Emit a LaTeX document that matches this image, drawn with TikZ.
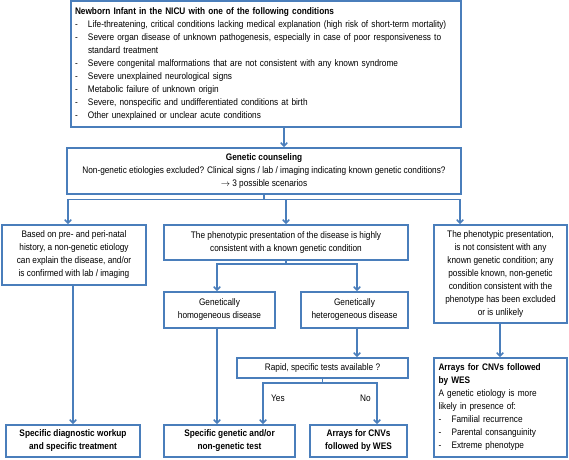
\documentclass[tikz,border=0pt]{standalone}
\usepackage{fontspec}
\setmainfont{Liberation Sans}[FakeStretch=0.87]
\usetikzlibrary{arrows.meta,calc}
\definecolor{bblue}{HTML}{4A7EBB}
\newcommand{\itm}[1]{\par\hangindent=13pt\hangafter=1\noindent\makebox[13pt][l]{-}#1}
\begin{document}
\begin{tikzpicture}[x=1pt,y=-1pt,
  box/.style={draw=bblue,line width=1.5pt,fill=white,inner sep=2pt,align=center,
    font=\fontsize{9.5}{13}\selectfont},
  conn/.style={draw=bblue,line width=1.5pt},
  arr/.style={conn,-{Straight Barb[length=3.5pt,width=6.5pt,line width=1.5pt]}},
  lab/.style={font=\fontsize{9.5}{13}\selectfont,inner sep=0pt}]
\useasboundingbox (0,0) rectangle (569,459);
% boxes
\node[box,minimum width=390,minimum height=126,text width=382,align=left] (top) at (266,64)
 {\hyphenpenalty=10000\textbf{Newborn Infant in the NICU with one of the following conditions}
 \itm{Life-threatening, critical conditions lacking medical explanation (high risk of short-term mortality)}
 \itm{Severe organ disease of unknown pathogenesis, especially in case of poor responsiveness to\newline standard treatment}
 \itm{Severe congenital malformations that are not consistent with any known syndrome}
 \itm{Severe unexplained neurological signs}
 \itm{Metabolic failure of unknown origin}
 \itm{Severe, nonspecific and undifferentiated conditions at birth}
 \itm{Other unexplained or unclear acute conditions}};
\node[box,minimum width=394,minimum height=46] (couns) at (264,171)
 {\textbf{Genetic counseling}\\Non-genetic etiologies excluded? Clinical signs / lab / imaging indicating known genetic conditions?\\$\rightarrow$ 3 possible scenarios};
\node[box,minimum width=144,minimum height=60] (left) at (74,255)
 {Based on pre- and peri-natal\\history, a non-genetic etiology\\can explain the disease, and/or\\is confirmed with lab / imaging};
\node[box,minimum width=244,minimum height=35] (mid) at (286,242.5)
 {The phenotypic presentation of the disease is highly\\consistent with a known genetic condition};
\node[box,minimum width=133,minimum height=98] (right) at (500.5,274)
 {The phenotypic presentation,\\is not consistent with any\\known genetic condition; any\\possible known, non-genetic\\condition consistent with the\\phenotype has been excluded\\or is unlikely};
\node[box,minimum width=111,minimum height=36] (homog) at (219.5,310)
 {Genetically\\homogeneous disease};
\node[box,minimum width=107,minimum height=36] (heter) at (354.5,310)
 {Genetically\\heterogeneous disease};
\node[box,minimum width=171,minimum height=20] (rapid) at (322.5,368)
 {Rapid, specific tests available ?};
\node[box,minimum width=134,minimum height=32] (bl) at (73,441)
 {\textbf{Specific diagnostic workup}\\\textbf{and specific treatment}};
\node[box,minimum width=131,minimum height=32] (bm) at (229.5,441)
 {\textbf{Specific genetic and/or}\\\textbf{non-genetic test}};
\node[box,minimum width=97,minimum height=32] (barr) at (358.5,441)
 {\textbf{Arrays for CNVs}\\\textbf{followed by WES}};
\node[box,minimum width=133,minimum height=99,text width=124,align=left] (br) at (500.5,407.5)
 {\textbf{Arrays for CNVs followed}\\\textbf{by WES}\par\noindent A genetic etiology is more\\likely in presence of:
 \itm{Familial recurrence}
 \itm{Parental consanguinity}
 \itm{Extreme phenotype}};
% labels
\node[lab,anchor=west] (yes) at (271,398) {Yes};
\node[lab,anchor=east] (no) at (371,398) {No};
% coordinates
\coordinate (xa) at (284,0);
\coordinate (b1) at (264,199.5);
\coordinate (xl) at (68,0);
\coordinate (xr) at (460,0);
\coordinate (m1) at (286,264);
\coordinate (xh) at (217,0);
\coordinate (xe) at (357,0);
\coordinate (r1) at (322.5,383);
\coordinate (xy) at (263,0);
\coordinate (xn) at (377,0);
\coordinate (xlb) at (73,0);
\coordinate (xrb) at (500,0);
% connectors
\draw[arr] (top.south -| xa) -- (couns.north -| xa);
\draw[conn] (couns.south) -- (b1);
\draw[arr] (b1 -| xr) -- (b1 -| xl) -- (left.north -| xl);
\draw[arr] (b1) -- (mid.north |- b1) -- (mid.north);
\draw[arr] (b1 -| xl) -- (b1 -| xr) -- (right.north -| xr);
\draw[conn] (mid.south) -- (m1);
\draw[arr] (m1) -- (m1 -| xh) -- (homog.north -| xh);
\draw[arr] (m1) -- (m1 -| xe) -- (heter.north -| xe);
\draw[arr] (heter.south -| xe) -- (rapid.north -| xe);
\draw[conn] (rapid.south) -- (r1);
\draw[arr] (r1) -- (r1 -| xy) -- (bm.north -| xy);
\draw[arr] (r1) -- (r1 -| xn) -- (barr.north -| xn);
\draw[arr] (homog.south -| xh) -- (bm.north -| xh);
\draw[arr] (left.south -| xlb) -- (bl.north -| xlb);
\draw[arr] (right.south -| xrb) -- (br.north -| xrb);
\end{tikzpicture}
\end{document}
